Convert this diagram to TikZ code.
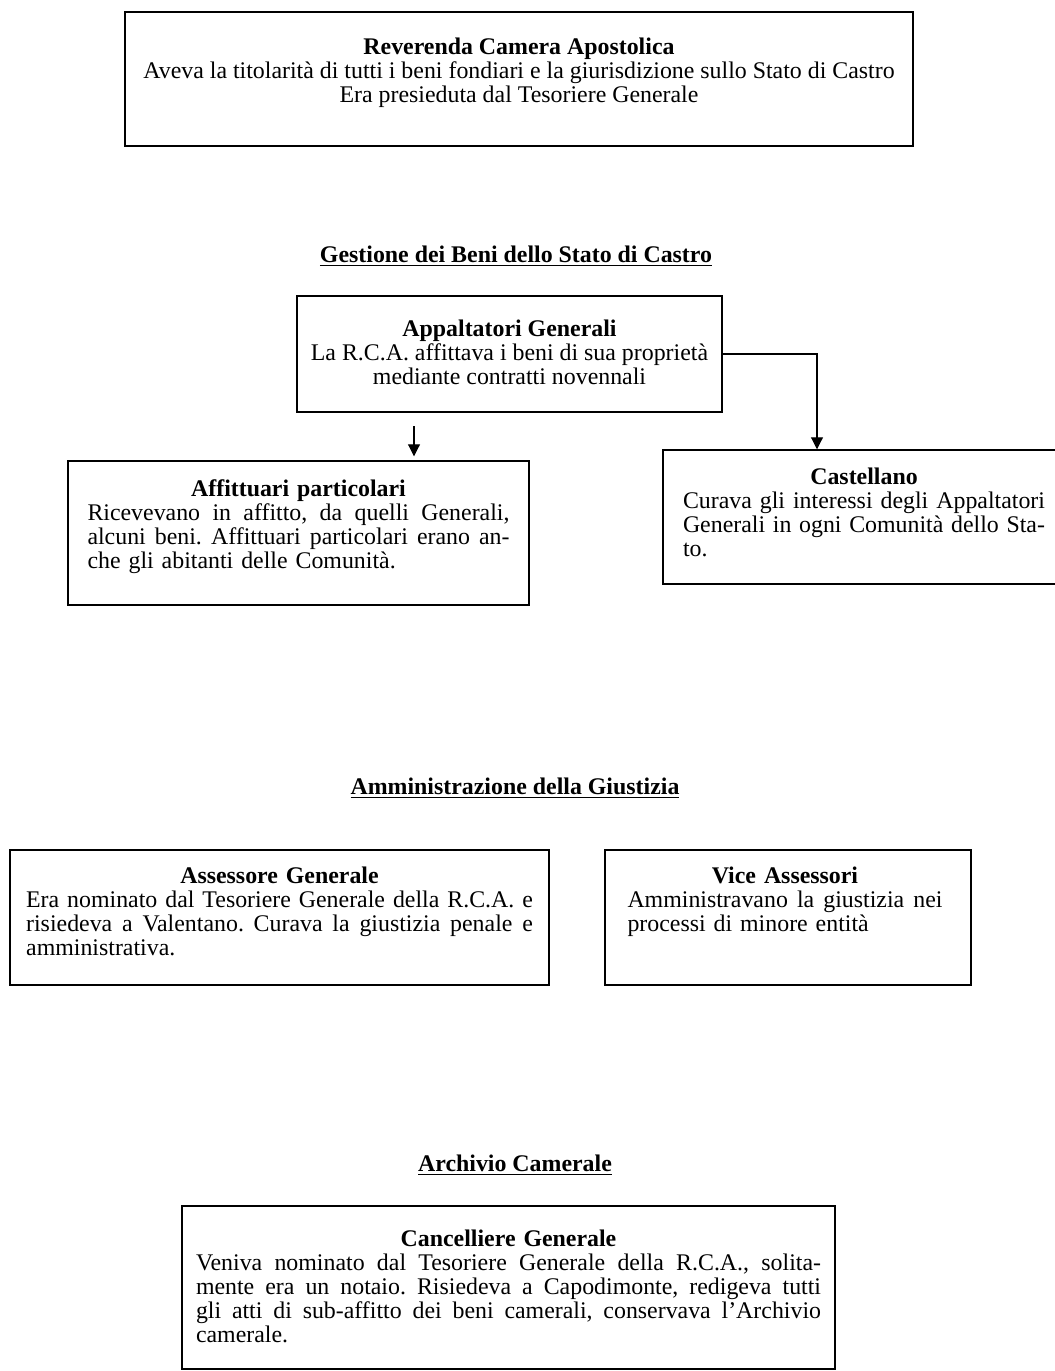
\documentclass[tikz,border=0pt]{standalone}
\usepackage{fontspec}
\setmainfont{Liberation Serif}
\usetikzlibrary{arrows.meta, positioning}

\newcommand{\fullline}[1]{{\spaceskip=0pt\xspaceskip=0pt\makebox[\hsize][s]{#1}}}
\newcommand{\lastline}[1]{\makebox[\hsize][l]{#1}}

\begin{document}
\frenchspacing
\begin{tikzpicture}[
    x=0.75pt, y=-0.75pt,
    box/.style={
        draw,
        line width=1.1pt,
        inner sep=0pt
    },
    txt/.style={
        anchor=north,
        inner sep=0pt,
        align=center,
        font=\fontsize{17.9}{18}\selectfont
    },
    heading/.style={
        inner sep=0pt,
        font=\fontsize{17.9}{18}\selectfont\bfseries
    },
    arrowd/.style={
        -{Triangle[length=9pt, width=9pt]},
        line width=0.8pt
    }
]
\useasboundingbox (0,0) rectangle (1055,1371);

% ------------------------------------------------
% Reverenda Camera Apostolica
% ------------------------------------------------
\node[box, minimum width=591pt, minimum height=100.5pt] (rca) at (519,79) {};
\node[txt] (rcat) at ([yshift=-20pt]rca.north) {\textbf{Reverenda Camera Apostolica}\\
Aveva la titolarità di tutti i beni fondiari e la giurisdizione sullo Stato di Castro\\
Era presieduta dal Tesoriere Generale};

% ------------------------------------------------
% Gestione dei Beni
% ------------------------------------------------
\node[heading] (h1) at (516,256) {\underline{Gestione dei Beni dello Stato di Castro}};

\node[box, minimum width=318.75pt, minimum height=87pt] (app) at (509.5,354) {};
\node[txt] (appt) at ([yshift=-18pt]app.north) {\textbf{Appaltatori Generali}\\
La R.C.A. affittava i beni di sua proprietà\\
mediante contratti novennali};

\node[box, minimum width=345.75pt, minimum height=108pt] (aff) at (298.5,533) {};
\node[txt, text width=316.5pt] (afft) at ([yshift=-14pt]aff.north) {\textbf{Affittuari particolari}\\
\fullline{Ricevevano in affitto, da quelli Generali,}\\
\fullline{alcuni beni. Affittuari particolari erano an-}\\
\lastline{che gli abitanti delle Comunità.}};

\node[box, minimum width=301.5pt, minimum height=100.5pt] (cas) at (864,517) {};
\node[txt, text width=271.5pt] (cast) at ([yshift=-13.5pt]cas.north) {\textbf{Castellano}\\
\fullline{Curava gli interessi degli Appaltatori}\\
\fullline{Generali in ogni Comunità dello Sta-}\\
\lastline{to.}};

\draw[arrowd, shorten <=10pt, shorten >=3pt] (app.south -| 414,0) -- (aff.north -| 414,0);
\draw[arrowd] (app.east) -| (cas.north -| 817,0);

% ------------------------------------------------
% Amministrazione della Giustizia
% ------------------------------------------------
\node[heading] (h2) at (515,788) {\underline{Amministrazione della Giustizia}};

\node[box, minimum width=404.25pt, minimum height=101.25pt] (ass) at (279.5,917.5) {};
\node[txt, text width=380pt] (asst) at ([yshift=-13pt]ass.north) {\textbf{Assessore Generale}\\
\fullline{Era nominato dal Tesoriere Generale della R.C.A. e}\\
\fullline{risiedeva a Valentano. Curava la giustizia penale e}\\
\lastline{amministrativa.}};

\node[box, minimum width=274.5pt, minimum height=101.25pt] (vic) at (788,917.5) {};
\node[txt, text width=236.25pt] (vict) at ([xshift=-2.25pt, yshift=-13pt]vic.north) {\textbf{Vice Assessori}\\
\fullline{Amministravano la giustizia nei}\\
\lastline{processi di minore entità}};

% ------------------------------------------------
% Archivio Camerale
% ------------------------------------------------
\node[heading] (h3) at (515,1165) {\underline{Archivio Camerale}};

\node[box, minimum width=489.75pt, minimum height=122.25pt] (can) at (508.5,1287.5) {};
\node[txt, text width=468.75pt] (cant) at ([yshift=-18pt]can.north) {\textbf{Cancelliere Generale}\\
\fullline{Veniva nominato dal Tesoriere Generale della R.C.A., solita-}\\
\fullline{mente era un notaio. Risiedeva a Capodimonte, redigeva tutti}\\
\fullline{gli atti di sub-affitto dei beni camerali, conservava l'Archivio}\\
\lastline{camerale.}};

\end{tikzpicture}
\end{document}
